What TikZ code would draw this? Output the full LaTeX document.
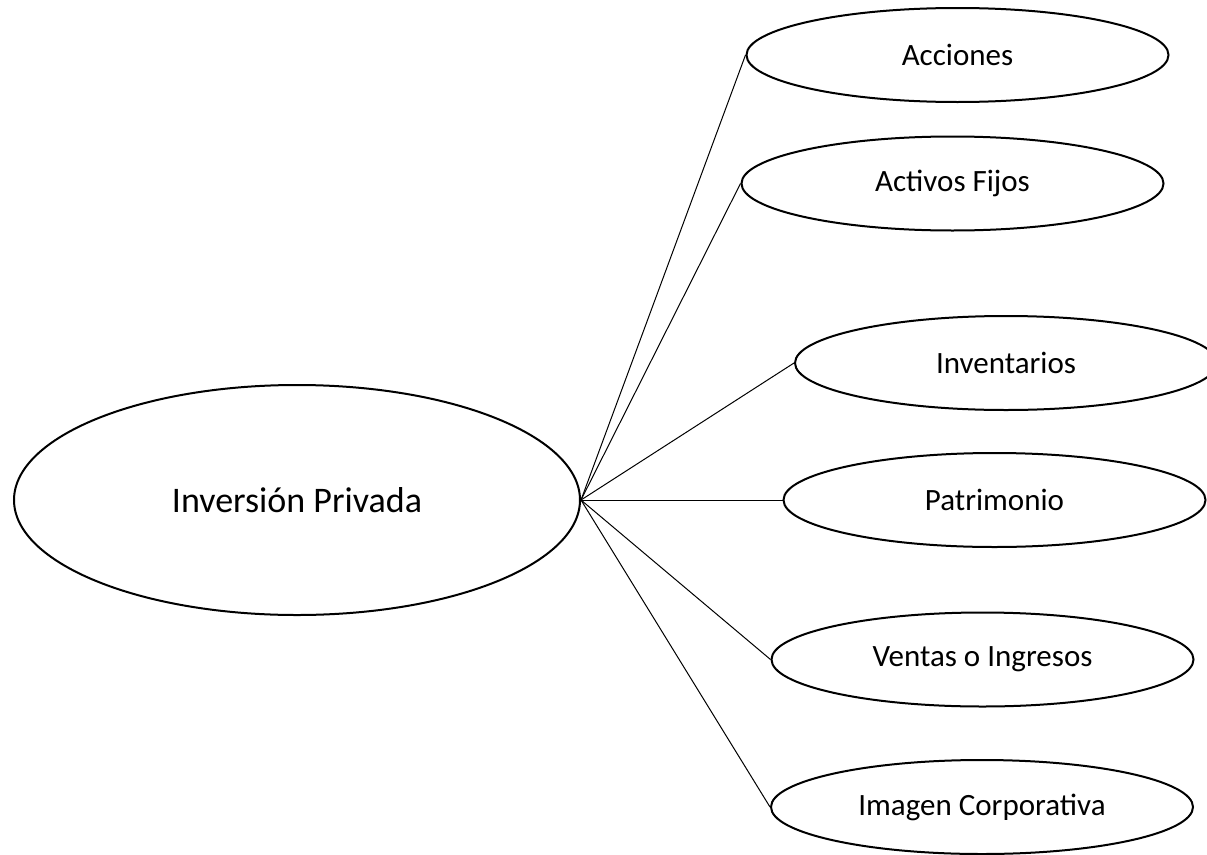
\documentclass[tikz,border=0pt]{standalone}
\usepackage{fontspec}
\setmainfont{Carlito}
\usepackage{tikz}
\usetikzlibrary{shapes.geometric}

\begin{document}
\begin{tikzpicture}[x=1pt, y=-1pt,
  rama/.style={draw, ellipse, line width=2pt, inner sep=0pt,
    minimum width=422pt, minimum height=94pt, font=\fontsize{31}{36}\selectfont},
  tronco/.style={draw, ellipse, line width=2pt, inner sep=0pt,
    minimum width=566pt, minimum height=230pt, font=\fontsize{36}{42}\selectfont},
  enlace/.style={line width=1pt}]
\useasboundingbox (0,0) rectangle (1207,854);

\node[tronco] (inv) at (297,500) {Inversión Privada};

\node[rama] (acc) at (957.5,55) {Acciones};
\node[rama] (act) at (952.5,183.5) {Activos Fijos};
\node[rama] (ivt) at (1006,363) {Inventarios};
\node[rama] (pat) at (994.5,500) {Patrimonio};
\node[rama] (ven) at (982.5,659.5) {Ventas o Ingresos};
\node[rama] (img) at (982,807) {Imagen Corporativa};

\draw[enlace] (inv.east) -- (acc.west);
\draw[enlace] (inv.east) -- (act.west);
\draw[enlace] (inv.east) -- (ivt.west);
\draw[enlace] (inv.east) -- (pat.west);
\draw[enlace] (inv.east) -- (ven.west);
\draw[enlace] (inv.east) -- (img.west);

\end{tikzpicture}
\end{document}
